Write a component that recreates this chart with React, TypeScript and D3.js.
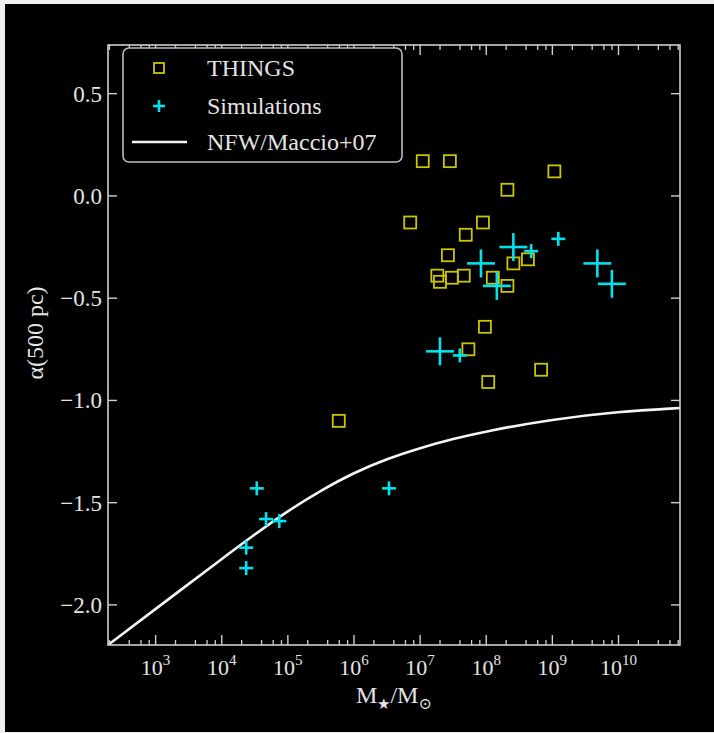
import React from 'react';
import * as d3 from 'd3';

// THINGS galaxies (log10 M*/Msun, alpha at 500 pc)
const thingsLogM = [7.04, 7.45, 9.03, 8.32, 6.85, 7.95, 7.69, 7.42, 8.41, 8.63, 7.26, 7.30, 7.48, 7.66, 8.10, 8.32, 7.98, 7.73, 8.83, 8.03, 5.77];
const thingsAlpha = [0.17, 0.17, 0.12, 0.03, -0.13, -0.13, -0.19, -0.29, -0.33, -0.31, -0.39, -0.42, -0.40, -0.39, -0.40, -0.44, -0.64, -0.75, -0.85, -0.91, -1.10];
// Simulations, large symbols
const simBigLogM = [8.41, 7.92, 8.16, 7.30, 9.68, 9.90];
const simBigAlpha = [-0.25, -0.33, -0.44, -0.76, -0.33, -0.43];
// Simulations, small symbols
const simSmallLogM = [8.68, 9.09, 7.60, 4.53, 4.67, 4.87, 4.37, 4.37, 6.53];
const simSmallAlpha = [-0.27, -0.21, -0.78, -1.43, -1.58, -1.59, -1.72, -1.82, -1.43];
// NFW / Maccio+07 curve
const nfwLogM = [2.28, 3.0, 4.0, 4.5, 5.0, 5.5, 6.0, 6.5, 7.0, 7.5, 8.0, 9.0, 10.0, 10.93];
const nfwAlpha = [-2.196, -2.02, -1.775, -1.655, -1.54, -1.44, -1.353, -1.285, -1.232, -1.188, -1.15, -1.092, -1.055, -1.037];

const yTicks = [0.5, 0.0, -0.5, -1.0, -1.5, -2.0];
const xTickExps = [3, 4, 5, 6, 7, 8, 9, 10];
const legendLabels = ['THINGS', 'Simulations', 'NFW/Maccio+07'];

const W = 714, H = 733;
const L = 108, R = 680, T = 45, B = 645;
const FONT = '"Liberation Serif", "DejaVu Serif", serif';
const TXT = '#e4e4e4';
const FRAME = '#cfcfcf';
const YEL = '#c9c500';
const CYAN = '#00e3ec';

export default function App() {
  const x = d3.scaleLog().domain([Math.pow(10, 2.28), Math.pow(10, 10.93)]).range([L, R]);
  const y = d3.scaleLinear().domain([-2.196, 0.738]).range([B, T]);

  const minorTicks: number[] = [];
  for (let e = 2; e <= 10; e++) {
    for (const m of [2, 4, 6, 8]) {
      const v = m * Math.pow(10, e);
      if (v >= x.domain()[0] && v <= x.domain()[1]) minorTicks.push(v);
    }
  }

  const line = d3.line<number>()
    .x((_, i) => x(Math.pow(10, nfwLogM[i])))
    .y((d) => y(d))
    .curve(d3.curveBasis);

  const plus = (cx: number, cy: number, s: number, key: string, sw: number) => (
    <g key={key} stroke={CYAN} strokeWidth={sw}>
      <line x1={cx - s} x2={cx + s} y1={cy} y2={cy} />
      <line x1={cx} x2={cx} y1={cy - s} y2={cy + s} />
    </g>
  );

  return (
    <svg width={W} height={H} style={{ position: 'absolute', left: 0, top: 0 }} fontFamily={FONT}>
      <rect x={0} y={0} width={W} height={H} fill="#f0f0f0" />
      <rect x={5} y={4} width={W - 5} height={728} fill="#000" />
      <defs>
        <clipPath id="plotclip">
          <rect x={L} y={T} width={R - L} height={B - T} />
        </clipPath>
      </defs>

      {/* curve */}
      <path d={line(nfwAlpha) || ''} fill="none" stroke="#f4f4f4" strokeWidth={2.6} clipPath="url(#plotclip)" />

      {/* THINGS squares */}
      {thingsLogM.map((lm, i) => (
        <rect key={'t' + i} x={x(Math.pow(10, lm)) - 6} y={y(thingsAlpha[i]) - 6} width={12} height={12}
          fill="none" stroke={YEL} strokeWidth={1.8} />
      ))}
      {/* simulations */}
      {simSmallLogM.map((lm, i) => plus(x(Math.pow(10, lm)), y(simSmallAlpha[i]), 7, 's' + i, 2.6))}
      {simBigLogM.map((lm, i) => plus(x(Math.pow(10, lm)), y(simBigAlpha[i]), 14, 'b' + i, 2.6))}

      {/* frame */}
      <rect x={L} y={T} width={R - L} height={B - T} fill="none" stroke={FRAME} strokeWidth={1.6} />

      {/* x ticks */}
      {xTickExps.map((e) => {
        const px = x(Math.pow(10, e));
        return (
          <g key={'xt' + e}>
            <line x1={px} x2={px} y1={B} y2={B - 10} stroke={FRAME} strokeWidth={1.4} />
            <line x1={px} x2={px} y1={T} y2={T + 10} stroke={FRAME} strokeWidth={1.4} />
            <text x={px} y={675} textAnchor="middle" fill={TXT} fontSize={22}>
              10<tspan fontSize={15} dy={-10}>{e}</tspan>
            </text>
          </g>
        );
      })}
      {minorTicks.map((v, i) => {
        const px = x(v);
        return (
          <g key={'mt' + i} stroke={FRAME} strokeWidth={1.3}>
            <line x1={px} x2={px} y1={B} y2={B - 5} />
            <line x1={px} x2={px} y1={T} y2={T + 5} />
          </g>
        );
      })}

      {/* y ticks */}
      {yTicks.map((v) => {
        const py = y(v);
        return (
          <g key={'yt' + v}>
            <line x1={L} x2={L + 9} y1={py} y2={py} stroke={FRAME} strokeWidth={1.4} />
            <line x1={R} x2={R - 9} y1={py} y2={py} stroke={FRAME} strokeWidth={1.4} />
            <text x={102} y={py + 8} textAnchor="end" fill={TXT} fontSize={23}>
              {v < 0 ? '\u2212' + Math.abs(v).toFixed(1) : v.toFixed(1)}
            </text>
          </g>
        );
      })}

      {/* axis titles */}
      <text x={(L + R) / 2} y={703} textAnchor="middle" fill={TXT} fontSize={24}>
        M<tspan fontSize={15} dy={6}>{'\u2605'}</tspan>
        <tspan dy={-6}>/M</tspan>
        <tspan fontSize={16} dy={6}>{'\u2299'}</tspan>
      </text>
      <text transform="translate(43,333) rotate(-90)" textAnchor="middle" fill={TXT} fontSize={24}>
        {'\u03B1(500 pc)'}
      </text>

      {/* legend */}
      <rect x={123} y={48} width={279} height={114} rx={6} fill="#000" stroke="#bdbdbd" strokeWidth={1.6} />
      <rect x={154} y={63} width={10} height={10} fill="none" stroke={YEL} strokeWidth={1.8} />
      {plus(159, 106, 6, 'lg', 2.6)}
      <line x1={132} x2={187} y1={142} y2={142} stroke="#f4f4f4" strokeWidth={2.6} />
      {legendLabels.map((t, i) => (
        <text key={t} x={207} y={[76, 114, 150][i]} fill={TXT} fontSize={24}>{t}</text>
      ))}
    </svg>
  );
}
